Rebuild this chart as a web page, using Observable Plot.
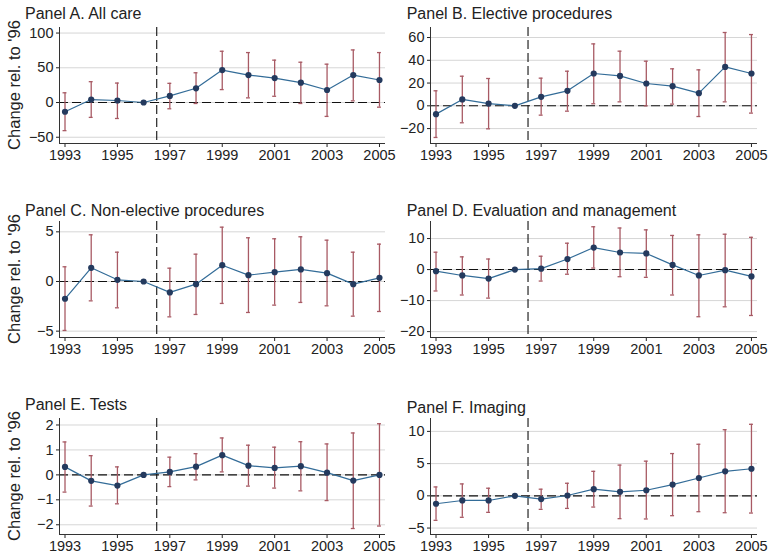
<!DOCTYPE html>
<html>
<head>
<meta charset="utf-8">
<script src="https://cdn.jsdelivr.net/npm/d3@7"></script>
<script src="https://cdn.jsdelivr.net/npm/@observablehq/plot@0.6"></script>
<style>
  html, body { margin: 0; padding: 0; background: #fff; }
  #wrap { position: relative; width: 775px; height: 559px; overflow: hidden; background: #fff;
          font-family: "Liberation Sans", Arial, Helvetica, sans-serif; }
  #wrap .panel { position: absolute; }
  #wrap svg { overflow: visible; }
  #overlay { position: absolute; left: 0; top: 0; pointer-events: none; }
</style>
</head>
<body>
<div id="wrap"></div>
<script>
// ---------------- data ----------------
const years = [1993, 1994, 1995, 1996, 1997, 1998, 1999, 2000, 2001, 2002, 2003, 2004, 2005];
const xTicks = [1993, 1995, 1997, 1999, 2001, 2003, 2005];
const yLabel = "Change rel. to '96";

const titleA = "Panel A. All care";
const estA = [-13.3, 4.3, 2.9, 0, 9.5, 20.5, 46.7, 39.5, 35.2, 28.6, 18.0, 39.5, 32.4];
const loA  = [-40.5, -21.4, -23.0, null, -9.0, -1.4, 18.6, 6.7, 9.0, -1.4, -20.0, 2.4, -6.7];
const hiA  = [14.0, 30.0, 28.0, null, 27.6, 42.8, 73.8, 71.9, 61.0, 58.0, 55.2, 75.7, 71.9];
const ticksA = [-50, 0, 50, 100];

const titleB = "Panel B. Elective procedures";
const estB = [-7.3, 5.6, 2.0, 0, 7.9, 13.2, 28.4, 26.3, 19.6, 17.3, 11.1, 34.2, 28.4];
const loB  = [-27.8, -14.9, -20.2, null, -8.2, -4.7, 1.8, 3.5, 0.0, 1.5, -9.4, 3.5, -6.4];
const hiB  = [13.2, 26.0, 24.0, null, 24.3, 30.4, 54.4, 48.0, 39.2, 32.5, 31.6, 64.4, 62.6];
const ticksB = [-20, 0, 20, 40, 60];

const titleC = "Panel C. Non-elective procedures";
const estC = [-1.74, 1.38, 0.17, 0, -1.10, -0.27, 1.64, 0.64, 0.94, 1.21, 0.84, -0.27, 0.37];
const loC  = [-4.93, -1.95, -2.65, null, -3.56, -3.32, -2.21, -3.12, -2.38, -2.11, -2.45, -3.49, -3.02];
const hiC  = [1.48, 4.70, 2.95, null, 1.34, 2.75, 5.47, 4.40, 4.30, 4.50, 4.16, 2.95, 3.76];
const ticksC = [-5, 0, 5];

const titleD = "Panel D. Evaluation and management";
const estD = [-0.5, -1.9, -2.9, 0, 0.3, 3.4, 7.1, 5.5, 5.2, 1.5, -1.9, -0.2, -2.2];
const loD  = [-6.9, -8.2, -9.2, null, -3.7, -1.5, 0.5, -2.3, -2.5, -8.2, -15.2, -12.0, -14.8];
const hiD  = [5.6, 4.1, 3.4, null, 4.3, 8.5, 13.8, 13.4, 12.8, 11.0, 11.2, 11.4, 10.4];
const ticksD = [-20, -10, 0, 10];

const titleE = "Panel E. Tests";
const estE = [0.32, -0.24, -0.43, 0, 0.12, 0.33, 0.79, 0.37, 0.28, 0.35, 0.09, -0.23, 0.0];
const loE  = [-0.69, -1.25, -1.16, null, -0.47, -0.20, 0.12, -0.45, -0.53, -0.64, -1.03, -2.15, -2.05];
const hiE  = [1.32, 0.77, 0.32, null, 0.71, 0.85, 1.48, 1.19, 1.11, 1.33, 1.24, 1.68, 2.05];
const ticksE = [-2, -1, 0, 1, 2];

const titleF = "Panel F. Imaging";
const estF = [-1.23, -0.72, -0.72, 0, -0.51, 0.05, 1.03, 0.62, 0.87, 1.74, 2.77, 3.80, 4.20];
const loF  = [-3.80, -3.33, -2.56, null, -2.10, -1.95, -1.74, -3.54, -3.59, -3.08, -2.46, -2.62, -2.67];
const hiF  = [1.38, 1.85, 1.18, null, 1.03, 1.95, 3.80, 4.77, 5.38, 6.56, 8.00, 10.26, 11.10];
const ticksF = [-5, 0, 5, 10];

// ---------------- layout / style ----------------
const lineColor = "#336c98";
const dotColor = "#243a5e";
const errColor = "#a85a64";
const gridColor = "#d6d6d6";
const axisColor = "#333";
const xDomain = [1992.79, 2005.23];

const panels = [
  {title: titleA, est: estA, lo: loA, hi: hiA, ticks: ticksA, yDomain: [-59, 108],
   left: 0, top: 0, width: 388, height: 175, mL: 59, mR: 3, mT: 27, mB: 32, tx: 25, ty: 19.3},
  {title: titleB, est: estB, lo: loB, hi: hiB, ticks: ticksB, yDomain: [-33.1, 68.8],
   left: 388, top: 0, width: 387, height: 175, mL: 42, mR: 18, mT: 27, mB: 32, tx: 406.7, ty: 19.3},
  {title: titleC, est: estC, lo: loC, hi: hiC, ticks: ticksC, yDomain: [-5.64, 6.04],
   left: 0, top: 190, width: 388, height: 175, mL: 59, mR: 3, mT: 31, mB: 28, tx: 25, ty: 216},
  {title: titleD, est: estD, lo: loD, hi: hiD, ticks: ticksD, yDomain: [-21.9, 15.5],
   left: 388, top: 190, width: 387, height: 175, mL: 42, mR: 18, mT: 31, mB: 28, tx: 406.7, ty: 216},
  {title: titleE, est: estE, lo: loE, hi: hiE, ticks: ticksE, yDomain: [-2.39, 2.26],
   left: 0, top: 385, width: 388, height: 174, mL: 59, mR: 3, mT: 33, mB: 25, tx: 25, ty: 410},
  {title: titleF, est: estF, lo: loF, hi: hiF, ticks: ticksF, yDomain: [-6.0, 12.0],
   left: 388, top: 385, width: 387, height: 174, mL: 42, mR: 18, mT: 33, mB: 25, tx: 406.7, ty: 412.7}
];

const minusFmt = d => (d < 0 ? "\u2212" + Math.abs(d) : String(d));
const wrap = document.getElementById("wrap");

for (const p of panels) {
  const rows = years.map((year, i) => ({year, est: p.est[i], lo: p.lo[i], hi: p.hi[i]}));
  const ci = rows.filter(d => d.lo != null && d.hi != null);
  const cap = 0.075;
  const chart = Plot.plot({
    width: p.width,
    height: p.height,
    marginLeft: p.mL,
    marginRight: p.mR,
    marginTop: p.mT,
    marginBottom: p.mB,
    style: {fontFamily: '"Liberation Sans", Arial, Helvetica, sans-serif', fontSize: "14.5px", color: "#222", background: "transparent", overflow: "visible"},
    x: {domain: xDomain, ticks: xTicks, tickFormat: d => String(d), tickSize: 4, tickPadding: 2.5, label: null},
    y: {domain: p.yDomain, ticks: p.ticks, tickFormat: minusFmt, tickSize: 3, tickPadding: 3, label: null},
    marks: [
      Plot.ruleY(p.ticks, {stroke: gridColor, strokeWidth: 1}),
      Plot.ruleY([0], {stroke: "#111", strokeWidth: 1.1, strokeDasharray: "9,4"}),
      Plot.ruleX([1996.5], {stroke: "#111", strokeWidth: 1.1, strokeDasharray: "9,4"}),
      Plot.ruleX(ci, {x: "year", y1: "lo", y2: "hi", stroke: errColor, strokeWidth: 1.3}),
      Plot.ruleY(ci, {y: "hi", x1: d => d.year - cap, x2: d => d.year + cap, stroke: errColor, strokeWidth: 1.3}),
      Plot.ruleY(ci, {y: "lo", x1: d => d.year - cap, x2: d => d.year + cap, stroke: errColor, strokeWidth: 1.3}),
      Plot.line(rows, {x: "year", y: "est", stroke: lineColor, strokeWidth: 1.2}),
      Plot.dot(rows, {x: "year", y: "est", r: 3.1, fill: dotColor, stroke: "none"}),
      Plot.ruleX([xDomain[0]], {stroke: axisColor, strokeWidth: 1}),
      Plot.ruleY([p.yDomain[0]], {stroke: axisColor, strokeWidth: 1})
    ]
  });
  const holder = document.createElement("div");
  holder.className = "panel";
  holder.style.left = p.left + "px";
  holder.style.top = p.top + "px";
  holder.appendChild(chart);
  wrap.appendChild(holder);
}

// overlay for titles and y-axis labels
const ns = "http://www.w3.org/2000/svg";
const ov = document.createElementNS(ns, "svg");
ov.setAttribute("id", "overlay");
ov.setAttribute("width", 775);
ov.setAttribute("height", 559);
for (const p of panels) {
  const t = document.createElementNS(ns, "text");
  t.setAttribute("x", p.tx);
  t.setAttribute("y", p.ty);
  t.setAttribute("font-size", "16");
  t.setAttribute("fill", "#222");
  t.setAttribute("font-family", '"Liberation Sans", Arial, Helvetica, sans-serif');
  t.textContent = p.title;
  ov.appendChild(t);
}
const labelRows = [panels[0], panels[2], panels[4]];
for (const p of labelRows) {
  const cy = p.top + p.mT + (p.height - p.mT - p.mB) / 2;
  const t = document.createElementNS(ns, "text");
  t.setAttribute("transform", `translate(19.5,${cy}) rotate(-90)`);
  t.setAttribute("text-anchor", "middle");
  t.setAttribute("font-size", "16.5");
  t.setAttribute("fill", "#222");
  t.setAttribute("font-family", '"Liberation Sans", Arial, Helvetica, sans-serif');
  t.textContent = yLabel;
  ov.appendChild(t);
}
wrap.appendChild(ov);
</script>
</body>
</html>
